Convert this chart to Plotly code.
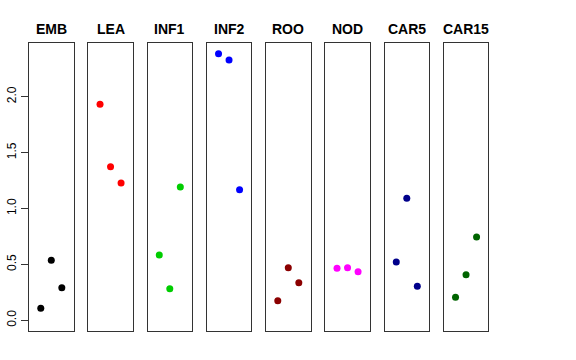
import plotly.graph_objects as go

groups = ["EMB", "LEA", "INF1", "INF2", "ROO", "NOD", "CAR5", "CAR15"]
colors = ["#000000", "#FF0000", "#00CD00", "#0000FF", "#8B0000", "#FF00FF", "#00008B", "#006400"]
positions = [1, 2, 3]
values = {
    "EMB": [0.107, 0.537, 0.292],
    "LEA": [1.932, 1.374, 1.228],
    "INF1": [0.584, 0.283, 1.192],
    "INF2": [2.385, 2.328, 1.168],
    "ROO": [0.175, 0.470, 0.336],
    "NOD": [0.465, 0.470, 0.435],
    "CAR5": [0.521, 1.091, 0.304],
    "CAR15": [0.206, 0.408, 0.745],
}
y_ticks = [0.0, 0.5, 1.0, 1.5, 2.0]
y_tick_labels = ["0.0", "0.5", "1.0", "1.5", "2.0"]

W, H = 576, 360
left0, step, pw = 29.0, 59.25, 44.6
top_px, bot_px = 43.3, 331.0
title_px = 29
ydom = [1 - bot_px / H, 1 - top_px / H]
yrange = [-0.096, 2.478]
xrange_ = [-0.12, 4.12]

fig = go.Figure()
layout = {}
annotations = []
for i, g in enumerate(groups):
    n = "" if i == 0 else str(i + 1)
    x0 = (left0 + i * step) / W
    x1 = (left0 + i * step + pw) / W
    fig.add_trace(go.Scatter(
        x=positions, y=values[g], mode="markers",
        marker=dict(color=colors[i], size=7, line=dict(width=0)),
        xaxis="x" + n, yaxis="y" + n, showlegend=False, hoverinfo="y",
    ))
    layout["xaxis" + n] = dict(
        domain=[x0, x1], range=xrange_, showticklabels=False, ticks="",
        showgrid=False, zeroline=False, showline=True, mirror=True,
        linecolor="#333333", linewidth=1, anchor="y" + n, fixedrange=True,
        automargin=False,
    )
    ydict = dict(
        domain=ydom, range=yrange, showgrid=False, zeroline=False,
        showline=True, mirror=True, linecolor="#333333", linewidth=1,
        anchor="x" + n, fixedrange=True, automargin=False,
    )
    if i == 0:
        ydict.update(tickvals=y_ticks, ticktext=y_tick_labels, ticks="outside",
                     ticklen=7, tickcolor="#333333", tickangle=-90,
                     tickfont=dict(size=12, color="#000000",
                                   family="Liberation Sans, Arial, sans-serif"))
    else:
        ydict.update(showticklabels=False, ticks="")
    layout["yaxis" + n] = ydict
    annotations.append(dict(
        text="<b>" + g + "</b>", x=(x0 + x1) / 2, y=1 - title_px / H,
        xref="paper", yref="paper", showarrow=False, xanchor="center", yanchor="middle",
        font=dict(size=14, color="#000000", family="Liberation Sans, Arial, sans-serif"),
    ))

fig.update_layout(
    width=W, height=H, margin=dict(l=0, r=0, t=0, b=0),
    paper_bgcolor="white", plot_bgcolor="white",
    annotations=annotations, **layout,
)
fig.write_html(
    "out.html",
    config={"displayModeBar": False},
    post_script="document.body.style.margin='0';document.body.style.overflow='hidden';",
)
